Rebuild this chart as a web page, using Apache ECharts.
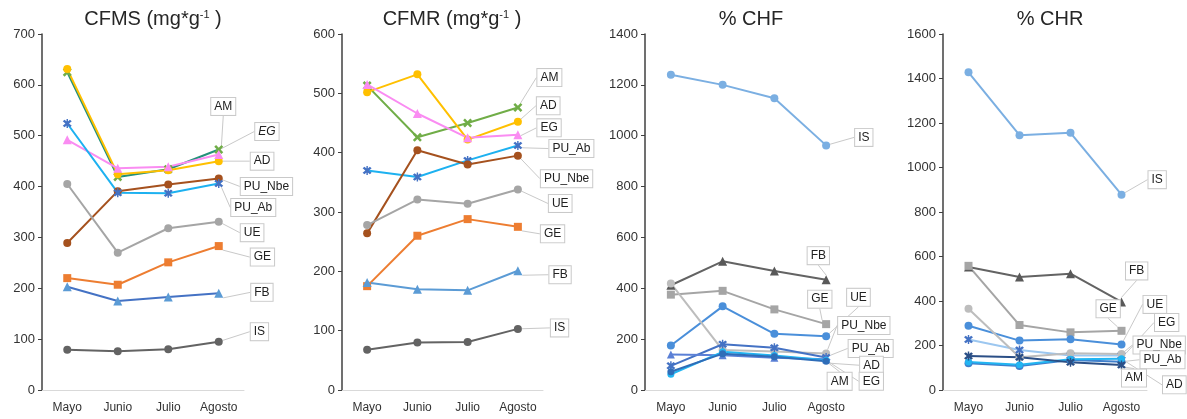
<!DOCTYPE html>
<html>
<head>
<meta charset="utf-8">
<script src="https://cdn.jsdelivr.net/npm/echarts@6/dist/echarts.min.js"></script>
<style>
html,body{margin:0;padding:0;background:#fff;}
#chart{width:1187px;height:419px;}
</style>
</head>
<body>
<div id="chart"></div>
<script>
// ---------- DATA ----------
const categories = ['Mayo', 'Junio', 'Julio', 'Agosto'];

// CFMS (mg*g-1)
const cfmsAM    = [625, 419, 434, 473];
const cfmsAD    = [631, 424, 432, 450];
const cfmsEG    = [492, 436, 439, 463];
const cfmsPUAb  = [524, 388, 387, 406];
const cfmsPUNbe = [289, 391, 404, 416];
const cfmsUE    = [405, 270, 318, 331];
const cfmsGE    = [220, 207, 251, 283];
const cfmsFB    = [203, 175, 183, 190];
const cfmsIS    = [79, 76, 80, 95];

// CFMR (mg*g-1)
const cfmrAM    = [513, 426, 450, 476];
const cfmrAD    = [502, 532, 422, 452];
const cfmrEG    = [515, 466, 425, 430];
const cfmrPUAb  = [370, 359, 387, 412];
const cfmrPUNbe = [264, 404, 380, 395];
const cfmrUE    = [278, 321, 314, 338];
const cfmrGE    = [175, 260, 288, 275];
const cfmrFB    = [181, 170, 168, 201];
const cfmrIS    = [68, 80, 81, 103];

// % CHF
const chfIS    = [1240, 1200, 1147, 962];
const chfFB    = [412, 506, 468, 434];
const chfGE    = [375, 390, 317, 259];
const chfUE    = [175, 329, 221, 211];
const chfPUNbe = [419, 157, 151, 144];
const chfPUAb  = [95, 180, 166, 128];
const chfAD    = [140, 137, 127, 121];
const chfEG    = [62, 150, 136, 117];
const chfAM    = [72, 143, 131, 113];

// % CHR
const chrIS    = [1428, 1145, 1156, 878];
const chrFB    = [553, 508, 523, 396];
const chrGE    = [558, 292, 259, 266];
const chrUE    = [289, 222, 228, 205];
const chrEG    = [227, 180, 155, 155];
const chrPUNbe = [365, 147, 165, 162];
const chrPUAb  = [120, 108, 135, 127];
const chrAM    = [153, 147, 125, 112];
const chrAD    = [126, 114, 138, 140];

// ---------- STYLE ----------
const X_PATH = 'path://M2,0L5,3L8,0L10,2L7,5L10,8L8,10L5,7L2,10L0,8L3,5L0,2Z';
const AST_PATH = 'path://M2,0L5,3L8,0L10,2L7,5L10,8L8,10L5,7L2,10L0,8L3,5L0,2Z M4.2,-1H5.8V11H4.2Z';

const panels = [
  { title: 'CFMS (mg*g', sup: true, cx: 148, left: 42, width: 202, max: 700, interval: 100,
    series: [
      { name: 'AM', data: cfmsAM, line: '#23917A', mark: '#70AD47', sym: X_PATH, size: 9, dx: -17, dy: -43 },
      { name: 'AD', data: cfmsAD, line: '#FFC000', mark: '#FFC000', sym: 'circle', size: 8, dx: 23, dy: 0 },
      { name: 'EG', data: cfmsEG, line: '#FA8CF2', mark: '#FA8CF2', sym: 'triangle', size: 9, dx: 27, dy: -23, italic: true },
      { name: 'PU_Nbe', data: cfmsPUNbe, line: '#A5511E', mark: '#A5511E', sym: 'circle', size: 8, dx: 13, dy: 8 },
      { name: 'PU_Ab', data: cfmsPUAb, line: '#1DB1F0', mark: '#4472C4', sym: AST_PATH, size: 9, dx: 3, dy: 24 },
      { name: 'UE', data: cfmsUE, line: '#A5A5A5', mark: '#A5A5A5', sym: 'circle', size: 8, dx: 13, dy: 11 },
      { name: 'GE', data: cfmsGE, line: '#ED7D31', mark: '#ED7D31', sym: 'rect', size: 8, dx: 23, dy: 11 },
      { name: 'FB', data: cfmsFB, line: '#4472C4', mark: '#5B9BD5', sym: 'triangle', size: 9, dx: 23, dy: -1 },
      { name: 'IS', data: cfmsIS, line: '#636363', mark: '#636363', sym: 'circle', size: 8, dx: 23, dy: -10 }
    ] },
  { title: 'CFMR (mg*g', sup: true, cx: 447, left: 342, width: 201, max: 600, interval: 100,
    series: [
      { name: 'AM', data: cfmrAM, line: '#70AD47', mark: '#70AD47', sym: X_PATH, size: 9, dx: 10, dy: -30 },
      { name: 'AD', data: cfmrAD, line: '#FFC000', mark: '#FFC000', sym: 'circle', size: 8, dx: 10, dy: -16 },
      { name: 'EG', data: cfmrEG, line: '#FA8CF2', mark: '#FA8CF2', sym: 'triangle', size: 9, dx: 10, dy: -7 },
      { name: 'PU_Ab', data: cfmrPUAb, line: '#1DB1F0', mark: '#4472C4', sym: AST_PATH, size: 9, dx: 22, dy: 3 },
      { name: 'PU_Nbe', data: cfmrPUNbe, line: '#A5511E', mark: '#A5511E', sym: 'circle', size: 8, dx: 14, dy: 23 },
      { name: 'UE', data: cfmrUE, line: '#A5A5A5', mark: '#A5A5A5', sym: 'circle', size: 8, dx: 22, dy: 14 },
      { name: 'GE', data: cfmrGE, line: '#ED7D31', mark: '#ED7D31', sym: 'rect', size: 8, dx: 14, dy: 7 },
      { name: 'FB', data: cfmrFB, line: '#5B9BD5', mark: '#5B9BD5', sym: 'triangle', size: 9, dx: 22, dy: 4 },
      { name: 'IS', data: cfmrIS, line: '#636363', mark: '#636363', sym: 'circle', size: 8, dx: 24, dy: -1 }
    ] },
  { title: '% CHF', sup: false, cx: 746, left: 645, width: 207, max: 1400, interval: 200,
    series: [
      { name: 'IS', data: chfIS, line: '#7BAFE2', mark: '#7BAFE2', sym: 'circle', size: 8, dx: 20, dy: -8 },
      { name: 'FB', data: chfFB, line: '#636363', mark: '#595959', sym: 'triangle', size: 9, dx: -28, dy: -24 },
      { name: 'GE', data: chfGE, line: '#A5A5A5', mark: '#A5A5A5', sym: 'rect', size: 8, dx: -27, dy: -25 },
      { name: 'UE', data: chfUE, line: '#4A8FDA', mark: '#4A8FDA', sym: 'circle', size: 8, dx: 12, dy: -39 },
      { name: 'PU_Nbe', data: chfPUNbe, line: '#BDBDBD', mark: '#BDBDBD', sym: 'circle', size: 8, dx: 3, dy: -28 },
      { name: 'PU_Ab', data: chfPUAb, line: '#4472C4', mark: '#4472C4', sym: AST_PATH, size: 9, dx: 13, dy: -9 },
      { name: 'AD', data: chfAD, line: '#5B80D6', mark: '#5B80D6', sym: 'triangle', size: 8, dx: 25, dy: 6 },
      { name: 'EG', data: chfEG, line: '#22B5F2', mark: '#22B5F2', sym: 'circle', size: 7, dx: 25, dy: 21 },
      { name: 'AM', data: chfAM, line: '#2F6DB8', mark: '#2F6DB8', sym: 'circle', size: 7, dx: -7, dy: 20 }
    ] },
  { title: '% CHR', sup: false, cx: 1045, left: 943, width: 204, max: 1600, interval: 200,
    series: [
      { name: 'IS', data: chrIS, line: '#7BAFE2', mark: '#7BAFE2', sym: 'circle', size: 8, dx: 18, dy: -15 },
      { name: 'FB', data: chrFB, line: '#636363', mark: '#595959', sym: 'triangle', size: 9, dx: -5, dy: -31 },
      { name: 'GE', data: chrGE, line: '#A5A5A5', mark: '#A5A5A5', sym: 'rect', size: 8, dx: -34, dy: -22 },
      { name: 'UE', data: chrUE, line: '#4A8FDA', mark: '#4A8FDA', sym: 'circle', size: 8, dx: 13, dy: -40 },
      { name: 'EG', data: chrEG, line: '#9CC7F0', mark: '#4472C4', sym: AST_PATH, size: 9, dx: 24, dy: -33 },
      { name: 'PU_Nbe', data: chrPUNbe, line: '#BDBDBD', mark: '#BDBDBD', sym: 'circle', size: 8, dx: 3, dy: -9 },
      { name: 'PU_Ab', data: chrPUAb, line: '#3E7FCC', mark: '#3E7FCC', sym: 'circle', size: 8, dx: 10, dy: -2 },
      { name: 'AD', data: chrAD, line: '#22B5F2', mark: '#22B5F2', sym: 'circle', size: 7, dx: 33, dy: 26 },
      { name: 'AM', data: chrAM, line: '#2B4F86', mark: '#2B4F86', sym: AST_PATH, size: 9, dx: -9, dy: 13 }
    ] }
];

const FONT = 'Arial, "Liberation Sans", sans-serif';
const grids = [], xAxes = [], yAxes = [], titles = [], series = [];

panels.forEach((p, i) => {
  grids.push({ left: p.left, width: p.width, top: 34, height: 356 });
  xAxes.push({
    type: 'category', gridIndex: i, data: categories, boundaryGap: true,
    axisLine: { show: true, lineStyle: { color: '#D9D9D9', width: 1 } },
    axisTick: { show: false },
    axisLabel: { color: '#333', fontSize: 12, fontFamily: FONT, margin: 12 }
  });
  yAxes.push({
    type: 'value', gridIndex: i, min: 0, max: p.max, interval: p.interval,
    axisLine: { show: true, lineStyle: { color: '#404040', width: 1.5 } },
    axisTick: { show: true, length: 4, lineStyle: { color: '#404040' } },
    splitLine: { show: false },
    axisLabel: { color: '#333', fontSize: 13, fontFamily: FONT, margin: 7, formatter: v => String(v) }
  });
  titles.push({
    text: p.sup ? '{a|' + p.title + '}{s|-1}{a| )}' : p.title,
    left: p.cx, top: 4, textAlign: 'center',
    textStyle: {
      color: '#262626', fontSize: 20, fontWeight: 'normal', fontFamily: FONT,
      rich: {
        a: { fontSize: 20, color: '#262626', fontFamily: FONT },
        s: { fontSize: 11, color: '#262626', fontFamily: FONT, verticalAlign: 'top', padding: [0, 0, 8, 0] }
      }
    }
  });
  p.series.forEach(s => {
    const last = s.data.length - 1;
    series.push({
      type: 'line', name: s.name, xAxisIndex: i, yAxisIndex: i,
      data: s.data.map((v, k) => k === last ? {
        value: v,
        label: {
          show: true, position: 'right', distance: 5,
          formatter: s.name,
          fontFamily: FONT, fontSize: 12, color: '#222',
          fontStyle: s.italic ? 'italic' : 'normal',
          backgroundColor: '#fff', borderColor: '#C9C9C9', borderWidth: 1,
          padding: [3, 3, 2, 3]
        }
      } : v),
      symbol: s.sym, symbolSize: s.size,
      lineStyle: { color: s.line, width: 2 },
      itemStyle: { color: s.mark },
      labelLayout: { dx: s.dx, dy: s.dy },
      labelLine: { show: true, lineStyle: { color: '#C9C9C9', width: 1 } },
      emphasis: { disabled: true },
      animation: false
    });
  });
});

const chart = echarts.init(document.getElementById('chart'), null, { renderer: 'canvas' });
chart.setOption({
  backgroundColor: '#fff',
  animation: false,
  title: titles,
  grid: grids,
  xAxis: xAxes,
  yAxis: yAxes,
  series: series
});
</script>
</body>
</html>
